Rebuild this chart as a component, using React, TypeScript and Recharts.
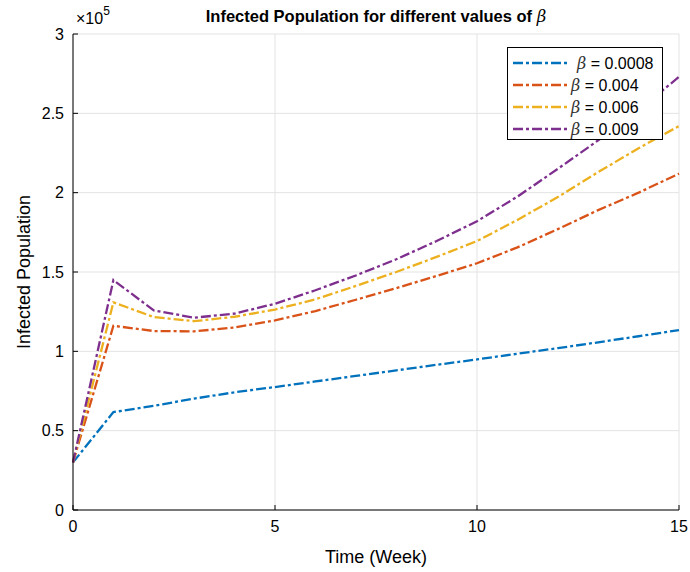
import React from "react";
import { LineChart, Line, XAxis, YAxis, CartesianGrid } from "recharts";

const weeks = [0, 1, 2, 3, 4, 5, 6, 7, 8, 9, 10, 11, 12, 13, 14, 15];
const betaValues = ["0.0008", "0.004", "0.006", "0.009"];
const infectedBeta00008 = [30000, 61700, 65700, 70200, 74200, 77500, 81000, 84500, 88000, 91500, 94900, 98500, 102000, 105700, 109500, 113400];
const infectedBeta0004 = [30000, 116100, 112800, 112600, 115000, 119500, 125400, 132500, 139800, 147500, 155500, 165500, 177000, 189000, 200000, 212000];
const infectedBeta0006 = [30000, 130900, 121600, 119000, 121800, 126300, 132800, 141200, 150000, 159500, 169500, 182800, 197200, 213000, 228000, 242000];
const infectedBeta0009 = [30000, 144900, 125800, 121200, 123800, 130000, 138500, 147800, 158000, 169500, 182000, 197500, 215000, 233000, 252000, 273000];
const xTicks = [0, 5, 10, 15];
const yTicks = [0, 50000, 100000, 150000, 200000, 250000, 300000];

const seriesValues = [infectedBeta00008, infectedBeta0004, infectedBeta0006, infectedBeta0009];
const colors = ["#0072BD", "#D95319", "#EDB120", "#7E2F8E"];
const keys = ["b1", "b2", "b3", "b4"];

const data = weeks.map((w, i) => {
  const row: any = { week: w };
  keys.forEach((k, j) => (row[k] = seriesValues[j][i]));
  return row;
});

const FONT = "'Liberation Sans', Arial, Helvetica, sans-serif";
const DASH = "10 3 3 3";

const LegendBox = () => (
  <div
    style={{
      position: "absolute",
      left: 507,
      top: 47,
      border: "1px solid #000",
      background: "#fff",
      width: 156,
      height: 93,
      boxSizing: "border-box",
    }}
  >
    <svg width={154} height={91} style={{ display: "block" }}>
      {betaValues.map((b, i) => {
        const y = 15 + i * 22;
        return (
          <g key={i}>
            <line x1={5} x2={59} y1={y} y2={y} stroke={colors[i]} strokeWidth={2.3} strokeDasharray={DASH} />
            <text x={i === 0 ? 69 : 63} y={y + 6} fontFamily={FONT} fontSize={16} fill="#000">
              <tspan fontStyle="italic" fontFamily="'DejaVu Serif', serif" fill="#333">β</tspan>
              <tspan>{` = ${b}`}</tspan>
            </text>
          </g>
        );
      })}
    </svg>
  </div>
);

export default function App() {
  return (
    <div style={{ position: "absolute", left: 0, top: 0, width: 690, height: 572, background: "#fff" }}>
      <LineChart width={690} height={572} data={data} margin={{ top: 34, right: 11, left: 0, bottom: 0 }}>
        <CartesianGrid stroke="#e3e3e3" strokeWidth={1} />
        <XAxis
          dataKey="week"
          type="number"
          domain={[0, 15]}
          ticks={xTicks}
          height={62}
          stroke="#000"
          tickSize={-5}
          tickMargin={16}
          tick={{ fill: "#000", fontSize: 16, fontFamily: FONT }}
          label={{ value: "Time (Week)", position: "insideBottom", offset: 9, fill: "#000", fontSize: 18, fontFamily: FONT }}
        />
        <XAxis
          xAxisId="top"
          orientation="top"
          dataKey="week"
          type="number"
          domain={[0, 15]}
          ticks={xTicks}
          height={0}
          stroke="#000"
          tickSize={-5}
          tick={false}
        />
        <YAxis
          type="number"
          domain={[0, 300000]}
          ticks={yTicks}
          width={73}
          stroke="#000"
          tickSize={-5}
          tickMargin={14}
          tickFormatter={(v: number) => String(v / 100000)}
          tick={{ fill: "#000", fontSize: 16, fontFamily: FONT }}
          label={{ value: "Infected Population", angle: -90, position: "insideLeft", offset: 24, style: { textAnchor: "middle" }, fill: "#000", fontSize: 18, fontFamily: FONT }}
        />
        <YAxis
          yAxisId="right"
          orientation="right"
          type="number"
          domain={[0, 300000]}
          ticks={yTicks}
          width={0}
          stroke="#000"
          tickSize={-5}
          tick={false}
        />
        {keys.map((k, j) => (
          <Line
            key={k}
            dataKey={k}
            name={`β = ${betaValues[j]}`}
            stroke={colors[j]}
            strokeWidth={2.3}
            strokeDasharray={DASH}
            dot={false}
            type="linear"
            isAnimationActive={false}
          />
        ))}
        <text x={376} y={22} textAnchor="middle" fontFamily={FONT} fontSize={16.5} fontWeight="bold" fill="#000">
          Infected Population for different values of{" "}
          <tspan fontStyle="italic" fontWeight="normal" fontFamily="'DejaVu Serif', serif">β</tspan>
        </text>
        <text x={76} y={24} fontFamily={FONT} fontSize={16} fill="#000">
          ×10<tspan dy={-9} fontSize={12}>5</tspan>
        </text>
      </LineChart>
      <LegendBox />
    </div>
  );
}
